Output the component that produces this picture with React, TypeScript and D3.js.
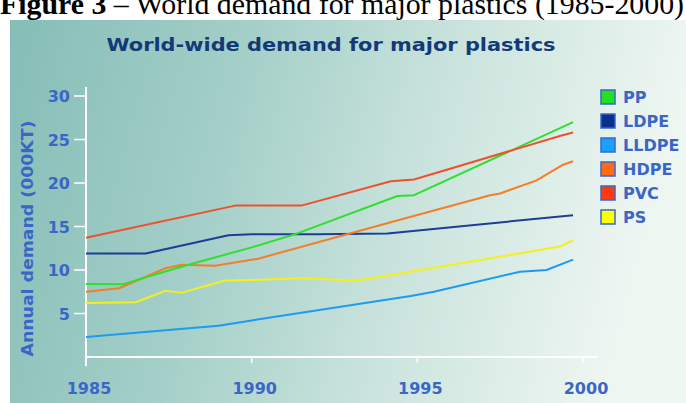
import React from "react";
import * as d3 from "d3";

const W = 686;
const H = 403;

const yTicks = [5, 10, 15, 20, 25, 30];
const xTicks = [1985, 1990, 1995, 2000];

const seriesNames = ["PP", "LDPE", "LLDPE", "HDPE", "PVC", "PS"];
const lineColors = ["#2ee02e", "#1d3d96", "#1e9bf0", "#f57d2a", "#f0502e", "#f4f01a"];
const legendColors = ["#22e022", "#0b2f8e", "#1aa0ff", "#ff6a12", "#ff3a10", "#ffff00"];

const PP: [number, number][] = [
  [1985, 8.4], [1986.1, 8.35], [1987.9, 10.4], [1990, 12.6], [1991.3, 14.1],
  [1994.4, 18.5], [1994.9, 18.6], [1999.7, 27.0],
];
const LDPE: [number, number][] = [
  [1985, 11.9], [1986.8, 11.9], [1989.3, 14.0], [1990, 14.1], [1992, 14.1],
  [1994.1, 14.2], [1999.7, 16.3],
];
const LLDPE: [number, number][] = [
  [1985, 2.3], [1989, 3.6], [1990, 4.2], [1994.8, 7.0], [1995.5, 7.5],
  [1998.1, 9.8], [1998.9, 10.0], [1999.7, 11.2],
];
const HDPE: [number, number][] = [
  [1985, 7.5], [1986, 7.9], [1987.4, 10.2], [1987.9, 10.6], [1988.9, 10.5],
  [1990.2, 11.3], [1994.5, 15.8], [1997.2, 18.6], [1997.5, 18.8], [1998.6, 20.3],
  [1999.4, 22.1], [1999.7, 22.5],
];
const PVC: [number, number][] = [
  [1985, 13.7], [1989.5, 17.4], [1991.5, 17.4], [1994.2, 20.2], [1994.9, 20.4],
  [1999.3, 25.4], [1999.7, 25.8],
];
const PS: [number, number][] = [
  [1985, 6.2], [1986.5, 6.3], [1987.4, 7.6], [1987.9, 7.4], [1989.2, 8.8],
  [1990, 8.85], [1991.5, 9.05], [1993.2, 8.8], [1994.8, 9.8], [1999.3, 12.7],
  [1999.7, 13.4],
];

const allSeries = [PP, LDPE, LLDPE, HDPE, PVC, PS];
// draw order: back to front
const drawOrder = [2, 5, 1, 3, 0, 4];

export default function App() {
  const x = d3.scaleLinear().domain([1985, 2000]).range([86, 583]);
  const y = d3.scaleLinear().domain([0, 30]).range([357, 96]);
  const line = d3
    .line<[number, number]>()
    .x((d) => x(d[0]))
    .y((d) => y(d[1]));

  const axisBlue = "#3a67c6";
  const font = "'DejaVu Sans', Verdana, sans-serif";

  return (
    <svg
      width={W}
      height={H}
      style={{ position: "absolute", left: 0, top: 0, background: "#fff" }}
    >
      <defs>
        <linearGradient id="bg" x1="0" y1="0" x2="1" y2="0.15">
          <stop offset="0" stopColor="#86bdb7" />
          <stop offset="0.35" stopColor="#a3cfc8" />
          <stop offset="0.65" stopColor="#c9e3dc" />
          <stop offset="1" stopColor="#eef6f2" />
        </linearGradient>
      </defs>
      <text
        x={0}
        y={14}
        fontFamily="'Liberation Serif', 'Times New Roman', serif"
        fontSize={29}
        fill="#000"
        textLength={684}
        lengthAdjust="spacingAndGlyphs"
      >
        <tspan fontWeight="bold">Figure 3</tspan>
        <tspan> – World demand for major plastics (1985-2000)</tspan>
      </text>
      <rect x={10} y={20} width={W - 10} height={H - 20} fill="url(#bg)" />

      <text
        x={331}
        y={51}
        textAnchor="middle"
        fontFamily={font}
        fontWeight="bold"
        fontSize={18}
        fill="#123a78"
        textLength={449}
        lengthAdjust="spacingAndGlyphs"
      >
        World-wide demand for major plastics
      </text>

      {/* axes */}
      <line x1={86} x2={86} y1={87} y2={366} stroke="#fff" strokeWidth={2} />
      <line x1={85} x2={597} y1={357} y2={357} stroke="#fff" strokeWidth={2} />
      {yTicks.map((t) => (
        <g key={t}>
          <line x1={74} x2={86} y1={y(t)} y2={y(t)} stroke="#fff" strokeWidth={1.5} />
          <text
            x={70}
            y={y(t) + 6}
            textAnchor="end"
            fontFamily={font}
            fontWeight="bold"
            fontSize={16}
            fill={axisBlue}
          >
            {t}
          </text>
        </g>
      ))}
      {xTicks.map((t) => (
        <g key={t}>
          <line x1={x(t)} x2={x(t)} y1={357} y2={363} stroke="#fff" strokeWidth={1.5} />
          <text
            x={x(t) + 3}
            y={394}
            textAnchor="middle"
            fontFamily={font}
            fontWeight="bold"
            fontSize={16}
            fill={axisBlue}
          >
            {t}
          </text>
        </g>
      ))}
      <text
        transform="translate(33,238.5) rotate(-90)"
        textAnchor="middle"
        fontFamily={font}
        fontWeight="bold"
        fontSize={15}
        fill={axisBlue}
        textLength={236}
        lengthAdjust="spacingAndGlyphs"
      >
        Annual demand (000KT)
      </text>

      {/* lines */}
      {drawOrder.map((i) => (
        <path
          key={seriesNames[i]}
          d={line(allSeries[i]) || ""}
          fill="none"
          stroke={lineColors[i]}
          strokeWidth={2}
          strokeLinejoin="round"
        />
      ))}

      {/* legend */}
      {seriesNames.map((name, i) => {
        const cy = 97 + i * 24;
        return (
          <g key={name}>
            <rect
              x={601}
              y={cy - 7}
              width={14}
              height={14}
              fill={legendColors[i]}
              stroke={axisBlue}
              strokeWidth={1.5}
            />
            <text
              x={623}
              y={cy + 6}
              fontFamily={font}
              fontWeight="bold"
              fontSize={16}
              fill={axisBlue}
            >
              {name}
            </text>
          </g>
        );
      })}
    </svg>
  );
}
